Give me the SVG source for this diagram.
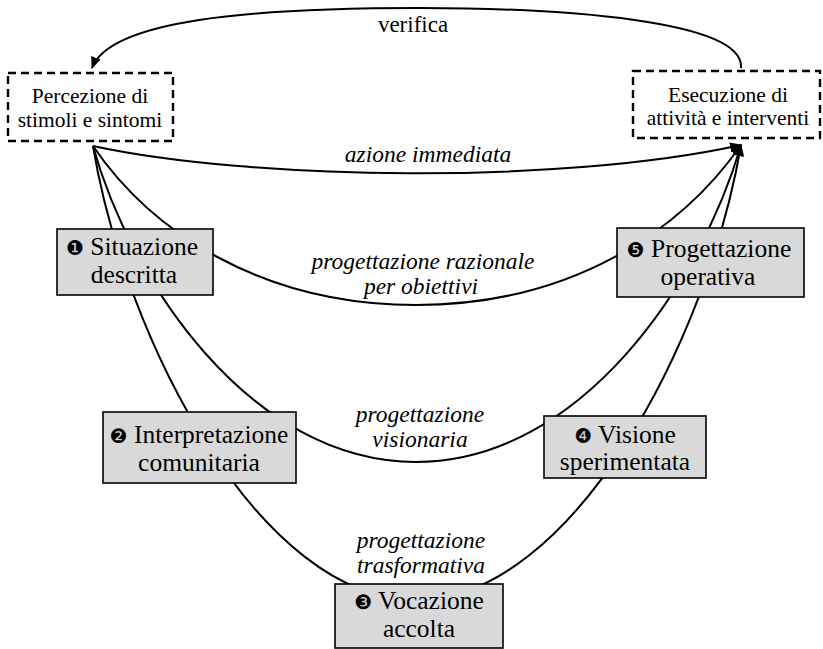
<svg xmlns="http://www.w3.org/2000/svg" width="823" height="649" viewBox="0 0 823 649">
<style>
  text { font-family: "Liberation Serif", "Times New Roman", serif; fill: #000; }
  .box { fill: #d9d9d9; stroke: #000; stroke-width: 1.6; }
  .dash { fill: #fff; stroke: #000; stroke-width: 2.4; stroke-dasharray: 8 5; }
  .big { font-size: 25.5px; text-anchor: middle; }
  .small { font-size: 21.5px; text-anchor: middle; }
  .lab { font-size: 23.5px; font-style: italic; text-anchor: middle; }
  .num { font-family: "DejaVu Sans", sans-serif; font-size: 20px; }
  .edge { fill: none; stroke: #000; stroke-width: 2; }
</style>
<defs>
  <marker id="arr" viewBox="0 0 12 10" refX="11" refY="5" markerWidth="12" markerHeight="10" markerUnits="userSpaceOnUse" orient="auto">
    <path d="M0,0 L12,5 L0,10 z" fill="#000"/>
  </marker>
</defs>
<rect width="823" height="649" fill="#fff"/>
<g id="connectors">
  <path class="edge" d="M741,68 C745,20 560,8 420,8 C250,8 110,20 92,68" marker-end="url(#arr)"/>
  <path class="edge" d="M93,146 C250,180 560,185 741,145" marker-end="url(#arr)"/>
  <path class="edge" d="M93,146 C150,230 260,305 416,305 C572,305 682,230 741,145" marker-end="url(#arr)"/>
  <path class="edge" d="M93,146 C130,280 250,462 416,462 C582,462 702,280 741,145" marker-end="url(#arr)"/>
  <path class="edge" d="M93,146 C125,340 260,600 416,600 C572,600 708,340 741,145" marker-end="url(#arr)"/>
</g>
<g id="edge-labels">
  <text class="lab" x="413" y="32" style="font-style:normal;font-size:23px">verifica</text>
  <text class="lab" x="428" y="162">azione immediata</text>
  <text class="lab" x="423" y="268.5">progettazione razionale</text>
  <text class="lab" x="421" y="294">per obiettivi</text>
  <text class="lab" x="420" y="422">progettazione</text>
  <text class="lab" x="420" y="447">visionaria</text>
  <text class="lab" x="421" y="548">progettazione</text>
  <text class="lab" x="421" y="573">trasformativa</text>
</g>
<g id="percezione">
  <rect class="dash" x="8" y="73" width="165" height="68"/>
  <text class="small" x="90" y="103">Percezione di</text>
  <text class="small" x="90" y="127">stimoli e sintomi</text>
</g>
<g id="esecuzione">
  <rect class="dash" x="633" y="71" width="187" height="67"/>
  <text class="small" x="728" y="102">Esecuzione di</text>
  <text class="small" x="728" y="125">attività e interventi</text>
</g>
<g id="situazione">
  <rect class="box" x="57" y="229" width="156" height="66"/>
  <text class="big" x="132" y="255"><tspan class="num">❶</tspan> Situazione</text>
  <text class="big" x="134" y="283">descritta</text>
</g>
<g id="interpretazione">
  <rect class="box" x="103" y="412" width="193" height="71"/>
  <text class="big" x="199" y="443"><tspan class="num">❷</tspan> Interpretazione</text>
  <text class="big" x="199" y="471">comunitaria</text>
</g>
<g id="vocazione">
  <rect class="box" x="335" y="584" width="168" height="64"/>
  <text class="big" x="419" y="609"><tspan class="num">❸</tspan> Vocazione</text>
  <text class="big" x="419" y="637">accolta</text>
</g>
<g id="visione">
  <rect class="box" x="544" y="416" width="162" height="62"/>
  <text class="big" x="625" y="443"><tspan class="num">❹</tspan> Visione</text>
  <text class="big" x="625" y="470">sperimentata</text>
</g>
<g id="progettazione">
  <rect class="box" x="617" y="228" width="187" height="69"/>
  <text class="big" x="709" y="257"><tspan class="num">❺</tspan> Progettazione</text>
  <text class="big" x="708" y="285">operativa</text>
</g>
</svg>
